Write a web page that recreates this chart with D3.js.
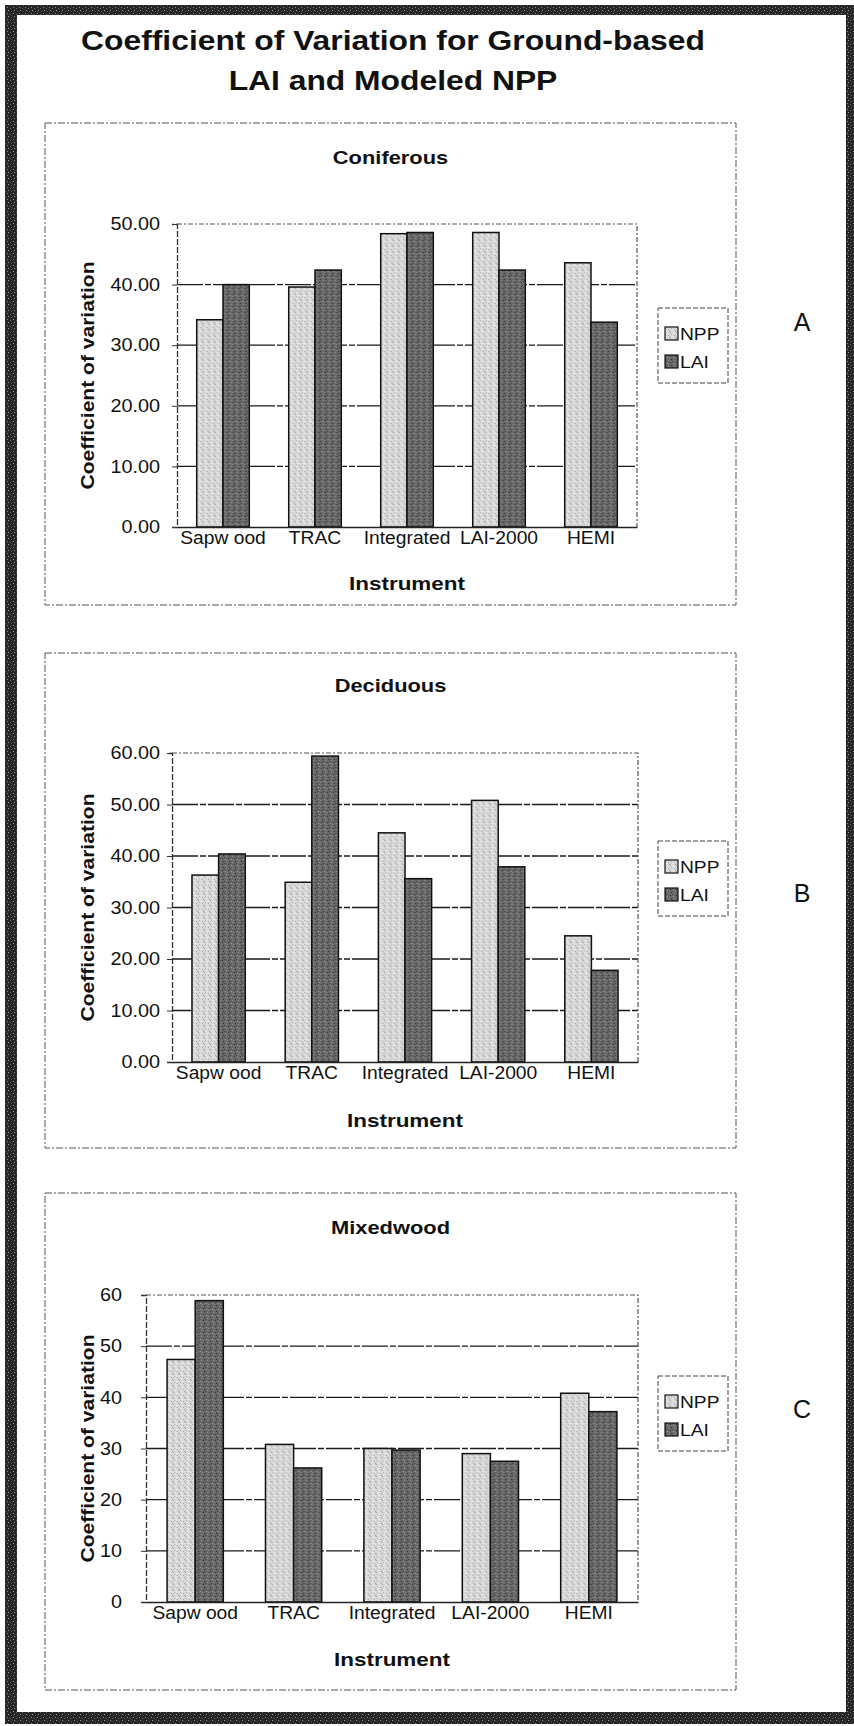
<!DOCTYPE html>
<html>
<head>
<meta charset="utf-8">
<script src="https://cdn.jsdelivr.net/npm/d3@7"></script>
<style>
  body { margin: 0; background: #fff; }
  svg { display: block; }
  text { font-family: "Liberation Sans", Arial, sans-serif; fill: #111; }
</style>
</head>
<body>
<svg id="fig" width="854" height="1726"></svg>
<script>
// ---- data ----
const instruments = ["Sapw ood", "TRAC", "Integrated", "LAI-2000", "HEMI"];
const seriesNames = ["NPP", "LAI"];

const coniferousNPP = [34.2, 39.6, 48.4, 48.6, 43.6];
const coniferousLAI = [40.0, 42.4, 48.6, 42.4, 33.8];
const deciduousNPP  = [36.3, 34.9, 44.5, 50.8, 24.5];
const deciduousLAI  = [40.4, 59.4, 35.6, 37.9, 17.8];
const mixedwoodNPP  = [47.4, 30.8, 30.0, 29.0, 40.8];
const mixedwoodLAI  = [58.9, 26.2, 29.7, 27.5, 37.2];

const coniferousTicks = [0, 10, 20, 30, 40, 50];
const deciduousTicks  = [0, 10, 20, 30, 40, 50, 60];
const mixedwoodTicks  = [0, 10, 20, 30, 40, 50, 60];

const panelTitles  = ["Coniferous", "Deciduous", "Mixedwood"];
const panelLetters = ["A", "B", "C"];
const figureTitle  = ["Coefficient of Variation for Ground-based", "LAI and Modeled NPP"];
const yAxisTitle = "Coefficient of variation";
const xAxisTitle = "Instrument";

// ---- layout ----
const panels = [
  { title: panelTitles[0], letter: panelLetters[0], npp: coniferousNPP, lai: coniferousLAI,
    ticks: coniferousTicks, fmt: d3.format(".2f"),
    box: [45, 123, 736, 605], plot: [177, 224, 637, 527], titleY: 164, labelGap: 12,
    legendY: 308, letterY: 331, instY: 590 },
  { title: panelTitles[1], letter: panelLetters[1], npp: deciduousNPP, lai: deciduousLAI,
    ticks: deciduousTicks, fmt: d3.format(".2f"),
    box: [45, 653, 736, 1148], plot: [172, 753, 638, 1062], titleY: 692, labelGap: 7,
    legendY: 841, letterY: 902, instY: 1127 },
  { title: panelTitles[2], letter: panelLetters[2], npp: mixedwoodNPP, lai: mixedwoodLAI,
    ticks: mixedwoodTicks, fmt: d3.format("d"),
    box: [45, 1193, 736, 1690], plot: [146, 1295, 638, 1602], titleY: 1234, labelGap: 19,
    legendY: 1376, letterY: 1418, instY: 1666 }
];

const svg = d3.select("#fig");

// stretch rendered text horizontally (wide screen-hinted look)
function widen(sel, k) {
  sel.each(function () {
    const w = this.getComputedTextLength();
    this.setAttribute("textLength", (w * k).toFixed(1));
    this.setAttribute("lengthAdjust", "spacingAndGlyphs");
  });
  return sel;
}
function fitTo(sel, w) {
  sel.attr("textLength", w).attr("lengthAdjust", "spacingAndGlyphs");
  return sel;
}

// ---- halftone fills ----
const defs = svg.append("defs");
function speckle(id, base, dots, size) {
  const p = defs.append("pattern").attr("id", id).attr("patternUnits", "userSpaceOnUse")
    .attr("width", size).attr("height", size);
  p.append("rect").attr("width", size).attr("height", size).attr("fill", base);
  dots.forEach(([x, y, c]) => p.append("rect").attr("x", x).attr("y", y)
    .attr("width", 1).attr("height", 1).attr("fill", c));
}
speckle("fillNPP", "#dadada", [[0,0,"#9c9c9c"],[3,1,"#f2f2f2"],[1,2,"#b0b0b0"],[4,3,"#a4a4a4"],[2,4,"#eeeeee"],[5,5,"#a0a0a0"],[0,4,"#c0c0c0"]], 6);
speckle("fillLAI", "#676767", [[0,0,"#363636"],[3,1,"#a0a0a0"],[1,3,"#2c2c2c"],[4,4,"#929292"],[2,5,"#404040"],[5,2,"#8a8a8a"]], 6);
speckle("fillFrame", "#262626", [[1,1,"#8a8a8a"],[4,2,"#666"],[2,4,"#9a9a9a"],[5,5,"#555"]], 6);
const fills = { NPP: "url(#fillNPP)", LAI: "url(#fillLAI)" };

// ---- outer frame ----
const frame = svg.append("g");
[[5, 5, 849, 10], [5, 5, 12, 1719], [846, 5, 8, 1719], [5, 1712, 849, 12]].forEach(([x, y, w, h]) =>
  frame.append("rect").attr("x", x).attr("y", y).attr("width", w).attr("height", h)
    .attr("fill", "url(#fillFrame)"));

// ---- figure title ----
figureTitle.forEach((t, i) => {
  widen(svg.append("text").attr("x", 393).attr("y", 50 + i * 40).attr("text-anchor", "middle")
    .attr("font-size", 28).attr("font-weight", "bold").text(t), 1.136);
});

// ---- panels ----
panels.forEach(p => {
  const [bx0, by0, bx1, by1] = p.box;
  const [px0, py0, px1, py1] = p.plot;
  const g = svg.append("g");

  // chart area border
  g.append("rect").attr("x", bx0).attr("y", by0).attr("width", bx1 - bx0).attr("height", by1 - by0)
    .attr("fill", "none").attr("stroke", "#555").attr("stroke-width", 1).attr("stroke-dasharray", "7 2 2 2");

  // chart title
  widen(g.append("text").attr("x", (bx0 + bx1) / 2).attr("y", p.titleY).attr("text-anchor", "middle")
    .attr("font-size", 19).attr("font-weight", "bold").text(p.title), 1.15);

  const yMax = p.ticks[p.ticks.length - 1];
  const y = d3.scaleLinear().domain([0, yMax]).range([py1, py0]);
  const x0 = d3.scaleBand().domain(instruments).range([px0, px1]).padding(0);
  const groupW = x0.bandwidth() * 2 / 3.5;
  const x1 = d3.scaleBand().domain(seriesNames).range([0, groupW]);

  // gridlines
  g.append("g").selectAll("line").data(p.ticks.filter(t => t > 0 && t < yMax)).join("line")
    .attr("x1", px0).attr("x2", px1).attr("y1", d => y(d)).attr("y2", d => y(d))
    .attr("stroke", "#1a1a1a").attr("stroke-width", 1.3).attr("stroke-dasharray", "26 2 6 2");

  // plot area frame (top and right)
  g.append("path").attr("d", `M${px0},${y(yMax)}H${px1}V${py1}`)
    .attr("fill", "none").attr("stroke", "#555").attr("stroke-width", 1.2).attr("stroke-dasharray", "5 2 2 2");

  // bars
  const rows = instruments.map((c, i) => ({ cat: c, NPP: p.npp[i], LAI: p.lai[i] }));
  g.append("g").selectAll("g").data(rows).join("g")
    .attr("transform", d => `translate(${x0(d.cat) + (x0.bandwidth() - groupW) / 2},0)`)
    .selectAll("rect").data(d => seriesNames.map(s => ({ s, v: d[s] }))).join("rect")
    .attr("x", d => x1(d.s)).attr("width", x1.bandwidth())
    .attr("y", d => y(d.v)).attr("height", d => y(0) - y(d.v))
    .attr("fill", d => fills[d.s]).attr("stroke", "#111").attr("stroke-width", 1.5);

  // y axis
  const ya = g.append("g").attr("transform", `translate(${px0},0)`)
    .call(d3.axisLeft(y).tickValues(p.ticks).tickFormat(p.fmt).tickSize(5).tickPadding(p.labelGap));
  ya.select(".domain").attr("stroke", "#333").attr("stroke-width", 1.3).attr("stroke-dasharray", "6 2");
  ya.selectAll(".tick line").attr("stroke", "#333");
  widen(ya.selectAll(".tick text").attr("font-size", 18).attr("font-family", null).attr("fill", "#111"), 1.1);

  // x axis
  const xa = g.append("g").attr("transform", `translate(0,${py1})`)
    .call(d3.axisBottom(x0).tickSize(0).tickPadding(5));
  xa.select(".domain").attr("stroke", "#222").attr("stroke-width", 1.6);
  xa.selectAll(".tick text").attr("font-size", 17.5).attr("font-family", null).attr("fill", "#111")
    .attr("dy", null).attr("y", 17);
  widen(xa.selectAll(".tick text"), 1.1);

  // axis titles
  fitTo(g.append("text").attr("transform", `translate(94,${(py0 + py1) / 2}) rotate(-90)`)
    .attr("text-anchor", "middle").attr("font-size", 18.5).attr("font-weight", "bold").text(yAxisTitle), 228);
  fitTo(g.append("text").attr("x", (px0 + px1) / 2).attr("y", p.instY).attr("text-anchor", "middle")
    .attr("font-size", 18.5).attr("font-weight", "bold").text(xAxisTitle), 116);

  // legend
  const lg = g.append("g").attr("transform", `translate(658,${p.legendY})`);
  lg.append("rect").attr("width", 70).attr("height", 75).attr("fill", "#fff")
    .attr("stroke", "#444").attr("stroke-width", 1).attr("stroke-dasharray", "5 2");
  seriesNames.forEach((s, i) => {
    lg.append("rect").attr("x", 7).attr("y", 19 + i * 28).attr("width", 13).attr("height", 13)
      .attr("fill", fills[s]).attr("stroke", "#111").attr("stroke-width", 1.2);
    widen(lg.append("text").attr("x", 22).attr("y", 32 + i * 28).attr("font-size", 17).text(s), 1.13);
  });

  // panel letter
  g.append("text").attr("x", 802).attr("y", p.letterY).attr("text-anchor", "middle")
    .attr("font-size", 25).text(p.letter);
});
</script>
</body>
</html>
